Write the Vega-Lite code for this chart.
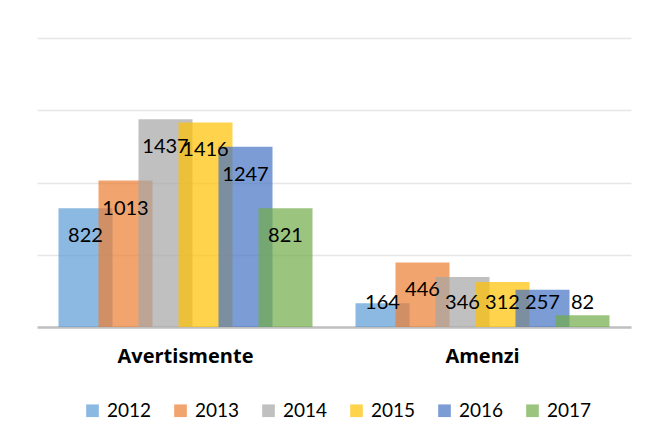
{
  "$schema": "https://vega.github.io/schema/vega-lite/v6.json",
  "autosize": "none",
  "width": 594,
  "height": 289,
  "padding": {"left": 37, "top": 38, "right": 19, "bottom": 120},
  "background": "white",
  "config": {
    "view": {"stroke": null},
    "font": "Lato",
    "axis": {"labelFont": "Lato", "titleFont": "Lato"},
    "legend": {"labelFont": "Lato"}
  },
  "data": {
    "values": [
      {"cat": "Avertismente", "year": "2012", "value": 822},
      {"cat": "Avertismente", "year": "2013", "value": 1013},
      {"cat": "Avertismente", "year": "2014", "value": 1437},
      {"cat": "Avertismente", "year": "2015", "value": 1416},
      {"cat": "Avertismente", "year": "2016", "value": 1247},
      {"cat": "Avertismente", "year": "2017", "value": 821},
      {"cat": "Amenzi", "year": "2012", "value": 164},
      {"cat": "Amenzi", "year": "2013", "value": 446},
      {"cat": "Amenzi", "year": "2014", "value": 346},
      {"cat": "Amenzi", "year": "2015", "value": 312},
      {"cat": "Amenzi", "year": "2016", "value": 257},
      {"cat": "Amenzi", "year": "2017", "value": 82}
    ]
  },
  "encoding": {
    "x": {
      "field": "cat", "type": "nominal", "sort": ["Avertismente", "Amenzi"],
      "scale": {"paddingInner": 0, "paddingOuter": 0},
      "axis": {
        "title": null, "labelAngle": 0, "ticks": false,
        "domainColor": "#BFBFBF", "domainWidth": 2.5,
        "labelFont": "Open Sans", "labelFontSize": 20, "labelFontWeight": "bold", "labelColor": "#000000",
        "labelPadding": 19
      }
    },
    "xOffset": {
      "field": "year", "type": "nominal",
      "scale": {"paddingInner": 0, "paddingOuter": 0.7125}
    }
  },
  "layer": [
    {
      "mark": {"type": "bar", "width": 54, "opacity": 0.7},
      "encoding": {
        "y": {
          "field": "value", "type": "quantitative",
          "scale": {"domain": [0, 2000], "nice": false},
          "axis": {
            "title": null, "labels": false, "ticks": false, "domain": false,
            "values": [500, 1000, 1500, 2000], "gridColor": "#E6E6E6", "gridWidth": 1.5
          }
        },
        "color": {
          "field": "year", "type": "nominal",
          "scale": {
            "domain": ["2012", "2013", "2014", "2015", "2016", "2017"],
            "range": ["#5B9BD5", "#ED7D31", "#A5A5A5", "#FFC000", "#4472C4", "#70AD47"]
          },
          "legend": {
            "title": null, "orient": "none", "direction": "horizontal",
            "legendX": 46, "legendY": 363,
            "symbolType": "square", "symbolSize": 160, "symbolStrokeWidth": 0,
            "symbolOpacity": 0.7,
            "labelFontSize": 19, "labelColor": "#000000", "labelOffset": 5,
            "columnPadding": 19
          }
        }
      }
    },
    {
      "transform": [{"calculate": "max(datum.value - 193, 165)", "as": "labelPos"}],
      "mark": {"type": "text", "fontSize": 20, "color": "#000000", "baseline": "middle"},
      "encoding": {
        "y": {"field": "labelPos", "type": "quantitative"},
        "text": {"field": "value", "type": "quantitative"}
      }
    }
  ]
}
